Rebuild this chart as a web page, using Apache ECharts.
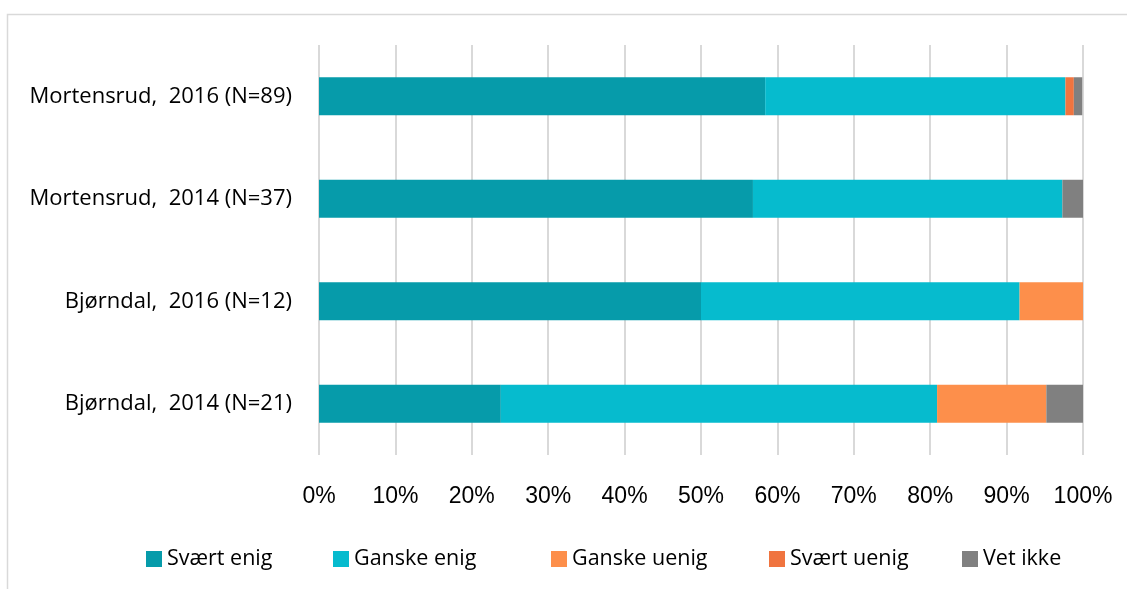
<!DOCTYPE html>
<html><head><meta charset="utf-8">
<script src="https://cdn.jsdelivr.net/npm/echarts@6/dist/echarts.min.js"></script>
<style>html,body{margin:0;padding:0;background:#fff}#c{width:1127px;height:589px}</style>
</head><body><div id="c"></div>
<script>
const categories = ['Bjørndal, 2014 (N=21)', 'Bjørndal, 2016 (N=12)', 'Mortensrud, 2014 (N=37)', 'Mortensrud, 2016 (N=89)'];
const seriesNames = ['Svært enig', 'Ganske enig', 'Ganske uenig', 'Svært uenig', 'Vet ikke'];
const svaertEnig = [23.8, 50.0, 56.8, 58.4];
const ganskeEnig = [57.1, 41.7, 40.5, 39.3];
const ganskeUenig = [14.3, 8.3, 0, 0];
const svaertUenig = [0, 0, 0, 1.1];
const vetIkke = [4.8, 0, 2.7, 1.1];
const xTicks = [0, 10, 20, 30, 40, 50, 60, 70, 80, 90, 100];

const colors = ['#069BAA', '#06BBCE', '#FD8F4B', '#F0743F', '#808080'];
const values = [svaertEnig, ganskeEnig, ganskeUenig, svaertUenig, vetIkke];
const legendLeft = [146, 333, 551, 769, 962];

const chart = echarts.init(document.getElementById('c'));
chart.setOption({
  animation: false,
  graphic: [{type:'rect', shape:{x:7.5, y:14.5, width:1130, height:590}, style:{fill:'none', stroke:'#d9d9d9', lineWidth:1.5}}],
  grid: {left: 319, right: 44, top: 45, bottom: 134},
  xAxis: {
    type: 'value', min: 0, max: 100, interval: 10,
    axisLine: {show: false}, axisTick: {show: false},
    splitLine: {lineStyle: {color: '#d9d9d9', width: 2}},
    axisLabel: {formatter: v => v + '%', fontFamily: 'Liberation Sans', fontSize: 23, color: '#000', margin: 30}
  },
  yAxis: {
    type: 'category', data: categories,
    axisLine: {show: false}, axisTick: {show: false},
    axisLabel: {fontFamily: 'Open Sans', fontSize: 22, color: '#000', margin: 27,
      formatter: v => v.replace(', ', ',  ')}
  },
  legend: seriesNames.map((n, i) => ({
    data: [n], left: legendLeft[i], top: 548, padding: 0, itemWidth: 16, itemHeight: 16, itemGap: 5,
    icon: 'rect', textStyle: {fontFamily: 'Open Sans', fontSize: 21.5, color: '#000', padding: [0,0,0,0]}
  })),
  series: seriesNames.map((n, i) => ({
    name: n, type: 'bar', stack: 'all', data: values[i], barWidth: 38,
    itemStyle: {color: colors[i]}
  }))
});
</script></body></html>
